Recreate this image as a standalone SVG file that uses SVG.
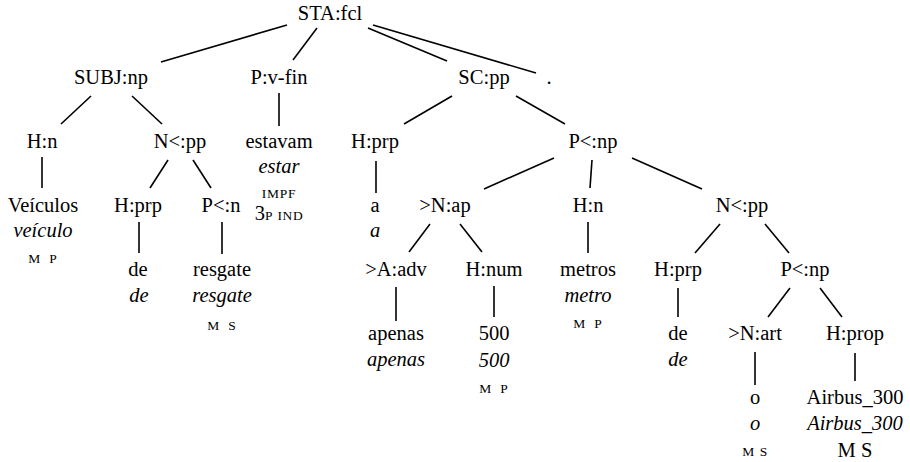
<svg xmlns="http://www.w3.org/2000/svg" width="910" height="462" viewBox="0 0 910 462">
  <style>
    text { font-size: 20.5px; fill: #000; text-anchor: middle; }
    .it { font-style: italic; }
    .sc { font-size: 13.5px; letter-spacing: 0.8px; word-spacing: 4px; }
    .sc2 { font-size: 13.5px; letter-spacing: 0.6px; word-spacing: 1px; }
    .edges line { stroke: #000; stroke-width: 1.6; }
  </style>
  <rect width="910" height="462" fill="#fff"/>

  <!-- tree edges -->
  <g class="edges" id="edges">
    <line x1="287" y1="25" x2="161" y2="62"/>
    <line x1="317" y1="28" x2="293" y2="60"/>
    <line x1="368" y1="28" x2="447" y2="61"/>
    <line x1="373" y1="25" x2="536" y2="73"/>
    <line x1="91" y1="96" x2="61" y2="124"/>
    <line x1="132" y1="96" x2="162" y2="124"/>
    <line x1="279" y1="93" x2="279" y2="126"/>
    <line x1="452" y1="96" x2="404" y2="124"/>
    <line x1="516" y1="96" x2="565" y2="124"/>
    <line x1="42" y1="157" x2="42" y2="188"/>
    <line x1="168" y1="160" x2="150" y2="188"/>
    <line x1="193" y1="160" x2="211" y2="188"/>
    <line x1="376" y1="161" x2="376" y2="193"/>
    <line x1="554" y1="158" x2="484" y2="189"/>
    <line x1="592" y1="160" x2="590" y2="188"/>
    <line x1="632" y1="158" x2="702" y2="189"/>
    <line x1="139" y1="222" x2="139" y2="253"/>
    <line x1="222" y1="222" x2="222" y2="254"/>
    <line x1="430" y1="224" x2="409" y2="252"/>
    <line x1="460" y1="224" x2="482" y2="252"/>
    <line x1="588" y1="222" x2="588" y2="253"/>
    <line x1="720" y1="224" x2="695" y2="253"/>
    <line x1="765" y1="224" x2="789" y2="253"/>
    <line x1="396" y1="287" x2="396" y2="321"/>
    <line x1="494" y1="286" x2="494" y2="317"/>
    <line x1="678" y1="288" x2="678" y2="317"/>
    <line x1="790" y1="288" x2="768" y2="317"/>
    <line x1="820" y1="288" x2="842" y2="317"/>
    <line x1="755" y1="352" x2="755" y2="385"/>
    <line x1="855" y1="353" x2="855" y2="381"/>
  </g>

  <!-- level 0 -->
  <g id="n-sta"><text font-family="'Liberation Serif', serif" x="330" y="20">STA:fcl</text></g>

  <!-- level 1 -->
  <g id="n-subj"><text font-family="'Liberation Serif', serif" x="111" y="84">SUBJ:np</text></g>
  <g id="n-pvfin"><text font-family="'Liberation Serif', serif" x="279" y="84">P:v-fin</text></g>
  <g id="n-sc"><text font-family="'Liberation Serif', serif" x="484" y="84">SC:pp</text></g>
  <g id="n-dot"><text font-family="'Liberation Serif', serif" x="549" y="84">.</text></g>

  <!-- level 2 -->
  <g id="n-hn1"><text font-family="'Liberation Serif', serif" x="42" y="148">H:n</text></g>
  <g id="n-npp1"><text font-family="'Liberation Serif', serif" x="180" y="148">N&lt;:pp</text></g>
  <g id="n-estavam">
    <text font-family="'Liberation Serif', serif" x="279" y="148">estavam</text>
    <text font-family="'Liberation Serif', serif" class="it" x="279" y="173">estar</text>
    <text font-family="'Liberation Serif', serif" class="sc" x="279" y="198">IMPF</text>
    <text font-family="'Liberation Serif', serif" x="279" y="220">3<tspan class="sc2">P IND</tspan></text>
  </g>
  <g id="n-hprp1"><text font-family="'Liberation Serif', serif" x="375" y="148">H:prp</text></g>
  <g id="n-pnp1"><text font-family="'Liberation Serif', serif" x="593" y="148">P&lt;:np</text></g>

  <!-- level 3 -->
  <g id="n-veiculos">
    <text font-family="'Liberation Serif', serif" x="43" y="212">Veículos</text>
    <text font-family="'Liberation Serif', serif" class="it" x="43" y="237">veículo</text>
    <text font-family="'Liberation Serif', serif" class="sc" x="43" y="263">M P</text>
  </g>
  <g id="n-hprp2"><text font-family="'Liberation Serif', serif" x="138" y="212">H:prp</text></g>
  <g id="n-pn"><text font-family="'Liberation Serif', serif" x="221" y="212">P&lt;:n</text></g>
  <g id="n-a">
    <text font-family="'Liberation Serif', serif" x="375" y="212">a</text>
    <text font-family="'Liberation Serif', serif" class="it" x="375" y="237">a</text>
  </g>
  <g id="n-nap"><text font-family="'Liberation Serif', serif" x="445" y="212">&gt;N:ap</text></g>
  <g id="n-hn2"><text font-family="'Liberation Serif', serif" x="588" y="212">H:n</text></g>
  <g id="n-npp2"><text font-family="'Liberation Serif', serif" x="742" y="212">N&lt;:pp</text></g>

  <!-- level 4 -->
  <g id="n-de1">
    <text font-family="'Liberation Serif', serif" x="138" y="276">de</text>
    <text font-family="'Liberation Serif', serif" class="it" x="139" y="302">de</text>
  </g>
  <g id="n-resgate">
    <text font-family="'Liberation Serif', serif" x="222" y="276">resgate</text>
    <text font-family="'Liberation Serif', serif" class="it" x="222" y="302">resgate</text>
    <text font-family="'Liberation Serif', serif" class="sc" x="222" y="330">M S</text>
  </g>
  <g id="n-aadv"><text font-family="'Liberation Serif', serif" x="396" y="276">&gt;A:adv</text></g>
  <g id="n-hnum"><text font-family="'Liberation Serif', serif" x="494" y="276">H:num</text></g>
  <g id="n-metros">
    <text font-family="'Liberation Serif', serif" x="588" y="276">metros</text>
    <text font-family="'Liberation Serif', serif" class="it" x="588" y="302">metro</text>
    <text font-family="'Liberation Serif', serif" class="sc" x="588" y="328">M P</text>
  </g>
  <g id="n-hprp3"><text font-family="'Liberation Serif', serif" x="678" y="276">H:prp</text></g>
  <g id="n-pnp2"><text font-family="'Liberation Serif', serif" x="805" y="276">P&lt;:np</text></g>

  <!-- level 5 -->
  <g id="n-apenas">
    <text font-family="'Liberation Serif', serif" x="396" y="340">apenas</text>
    <text font-family="'Liberation Serif', serif" class="it" x="396" y="366">apenas</text>
  </g>
  <g id="n-500">
    <text font-family="'Liberation Serif', serif" x="494" y="340">500</text>
    <text font-family="'Liberation Serif', serif" class="it" x="494" y="367">500</text>
    <text font-family="'Liberation Serif', serif" class="sc" x="494" y="393">M P</text>
  </g>
  <g id="n-de2">
    <text font-family="'Liberation Serif', serif" x="678" y="340">de</text>
    <text font-family="'Liberation Serif', serif" class="it" x="678" y="366">de</text>
  </g>
  <g id="n-nart"><text font-family="'Liberation Serif', serif" x="755" y="340">&gt;N:art</text></g>
  <g id="n-hprop"><text font-family="'Liberation Serif', serif" x="855" y="340">H:prop</text></g>

  <!-- level 6 -->
  <g id="n-o">
    <text font-family="'Liberation Serif', serif" x="755" y="404">o</text>
    <text font-family="'Liberation Serif', serif" class="it" x="755" y="430">o</text>
    <text font-family="'Liberation Serif', serif" class="sc2" x="755" y="456">M S</text>
  </g>
  <g id="n-airbus">
    <text font-family="'Liberation Serif', serif" x="855" y="404">Airbus_300</text>
    <text font-family="'Liberation Serif', serif" class="it" x="855" y="430">Airbus_300</text>
    <text font-family="'Liberation Serif', serif" x="855" y="457">M S</text>
  </g>
</svg>
